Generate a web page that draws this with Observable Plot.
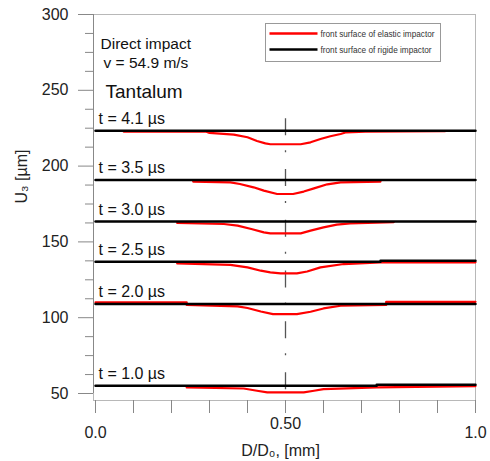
<!DOCTYPE html>
<html><head><meta charset="utf-8">
<script src="https://cdn.jsdelivr.net/npm/d3@7"></script>
<script src="https://cdn.jsdelivr.net/npm/@observablehq/plot@0.6"></script>
<style>
html,body{margin:0;padding:0;background:#fff;}
#chart{width:490px;height:461px;}
</style></head><body><div id="chart"></div>
<script>
// ---- data ----
const times = ["4.1", "3.5", "3.0", "2.5", "2.0", "1.0"];
const rigidLevels = [223.4, 190.9, 163.5, 136.9, 109.0, 55.1];

// rigid impactor front surface (black), per time
const rigid41D = [0, 1];          const rigid41U = [223.4, 223.4];
const rigid35D = [0, 1];          const rigid35U = [190.9, 190.9];
const rigid30D = [0, 1];          const rigid30U = [163.5, 163.5];
const rigid25D = [0, 0.75, 0.75, 1]; const rigid25U = [136.9, 136.9, 137.6, 137.6];
const rigid20D = [0, 1];          const rigid20U = [109.0, 109.0];
const rigid10D = [0, 0.74, 0.74, 1]; const rigid10U = [55.1, 55.1, 55.7, 55.7];

// elastic impactor front surface (red), per time
const elastic41D = [0.074, 0.29, 0.30, 0.364, 0.40, 0.425, 0.447, 0.46, 0.54, 0.566, 0.592, 0.618, 0.645, 0.66, 0.71, 0.92];
const elastic41U = [222.8, 222.8, 221.9, 220.8, 219.0, 216.6, 215.0, 214.4, 214.4, 215.7, 217.9, 219.7, 221.2, 222.3, 222.8, 223.0];
const elastic35D = [0.257, 0.355, 0.38, 0.416, 0.443, 0.478, 0.52, 0.548, 0.575, 0.61, 0.645, 0.75];
const elastic35U = [189.8, 189.3, 188.2, 186.0, 183.8, 181.6, 181.6, 183.2, 185.3, 188.0, 189.3, 189.8];
const elastic30D = [0.215, 0.338, 0.374, 0.41, 0.443, 0.46, 0.54, 0.566, 0.60, 0.635, 0.67, 0.785];
const elastic30U = [162.5, 161.8, 160.7, 158.5, 156.3, 155.6, 155.6, 157.4, 159.6, 161.4, 162.2, 163.1];
const elastic25D = [0.215, 0.355, 0.40, 0.435, 0.46, 0.487, 0.53, 0.557, 0.592, 0.653, 0.75, 1.0];
const elastic25U = [135.8, 134.8, 133.2, 131.0, 129.9, 129.2, 129.2, 130.5, 133.2, 135.4, 136.5, 136.5];
const elastic20D = [0, 0.24, 0.24, 0.374, 0.40, 0.435, 0.467, 0.53, 0.566, 0.60, 0.645, 0.765, 0.765, 1.0];
const elastic20U = [110.1, 110.1, 108.4, 107.5, 106.4, 104.1, 102.4, 102.4, 103.9, 106.1, 107.9, 108.4, 110.5, 110.5];
const elastic10D = [0.24, 0.39, 0.425, 0.452, 0.548, 0.575, 0.60, 0.74, 1.0];
const elastic10U = [54.0, 53.3, 51.8, 50.7, 50.7, 51.8, 52.9, 54.0, 54.9];

const yMajorTicks = [50, 100, 150, 200, 250, 300];
const yMinorTicks = d3.range(50, 300.01, 12.5).filter(v => !yMajorTicks.includes(v));
const xTicks = [0, 0.1, 0.2, 0.3, 0.4, 0.5, 0.6, 0.7, 0.8, 0.9, 1.0];
const xTickLabelsMid = [0.5];
const xTickLabelsEnds = [0, 1];
const xTickText = {0: "0.0", 0.5: "0.50", 1: "1.0"};
const centerD = [0.5];
const centerSpan = [231.3, 45.2];

const legendLabels = ["front surface of elastic impactor", "front surface of rigide impactor"];
const legendColors = ["#ff0000", "#000000"];

// ---- tables ----
function toRows(t, D, U) { return D.map((d, i) => ({t, D: d, U: U[i]})); }
const rigid = [
  ...toRows("4.1", rigid41D, rigid41U), ...toRows("3.5", rigid35D, rigid35U),
  ...toRows("3.0", rigid30D, rigid30U), ...toRows("2.5", rigid25D, rigid25U),
  ...toRows("2.0", rigid20D, rigid20U), ...toRows("1.0", rigid10D, rigid10U)
];
const elastic = [
  ...toRows("4.1", elastic41D, elastic41U), ...toRows("3.5", elastic35D, elastic35U),
  ...toRows("3.0", elastic30D, elastic30U), ...toRows("2.5", elastic25D, elastic25U),
  ...toRows("2.0", elastic20D, elastic20U), ...toRows("1.0", elastic10D, elastic10U)
];
const timeLabels = times.map((t, i) => ({t, level: rigidLevels[i]}));

const font = "Liberation Sans, Arial, sans-serif";

const plot = Plot.plot({
  width: 490, height: 461,
  marginTop: 14, marginRight: 15, marginBottom: 61, marginLeft: 93,
  style: {fontFamily: font, fontSize: "16px", color: "#222", background: "#fff"},
  x: {domain: [0, 1], range: [95, 475]},
  y: {domain: [50, 300], range: [393, 14]},
  marks: [
    Plot.frame({stroke: "#b8b8b8"}),
    Plot.ruleX([0], {y1: 300, y2: 50, dx: -2, stroke: "#888"}),
    Plot.axisY({ticks: yMajorTicks, tickSize: 15, tickPadding: 10, stroke: "#888", fill: "#222", fontSize: 16, label: null, tickFormat: d => String(d)}),
    Plot.axisY({ticks: yMinorTicks, tickSize: 8, stroke: "#888", label: null, tickFormat: () => ""}),
    Plot.axisX({ticks: xTicks, tickSize: 13, stroke: "#888", label: null, tickFormat: () => ""}),
    Plot.axisX({ticks: xTickLabelsMid, tickSize: 0, tickPadding: 17.5, fill: "#222", fontSize: 16, label: null, tickFormat: d => xTickText[d]}),
    Plot.axisX({ticks: xTickLabelsEnds, tickSize: 0, tickPadding: 26.5, fill: "#222", fontSize: 16, label: null, tickFormat: d => xTickText[d]}),
    Plot.ruleX(centerD, {x: d => d, y1: centerSpan[0], y2: centerSpan[1], stroke: "#555", strokeWidth: 1.3, strokeDasharray: "17,15,2,16.8"}),
    Plot.line(elastic, {x: "D", y: "U", z: "t", stroke: legendColors[0], strokeWidth: 2.2, curve: "linear"}),
    Plot.line(rigid, {x: "D", y: "U", z: "t", stroke: legendColors[1], strokeWidth: 2.5, curve: "linear"}),
    Plot.text(timeLabels, {x: () => 0, y: "level", text: d => `t = ${d.t} µs`, textAnchor: "start", lineAnchor: "middle", dx: 3, dy: -12, fontSize: 16, fill: "#111"}),
    Plot.text(["Direct impact"], {text: d => d, frameAnchor: "top-left", dx: 7, dy: 30, textAnchor: "start", lineAnchor: "middle", fontSize: 15.5, fill: "#111"}),
    Plot.text(["v = 54.9 m/s"], {text: d => d, frameAnchor: "top-left", dx: 10, dy: 48.5, textAnchor: "start", lineAnchor: "middle", fontSize: 15.5, fill: "#111"}),
    Plot.text(["Tantalum"], {text: d => d, frameAnchor: "top-left", dx: 12, dy: 77, textAnchor: "start", lineAnchor: "middle", fontSize: 19, fill: "#111"}),
    Plot.text(["U₃ [µm]"], {text: d => d, frameAnchor: "left", rotate: -90, dx: -72, dy: -4, lineAnchor: "middle", fontSize: 16, fill: "#222"}),
    Plot.text(["D/D₀, [mm]"], {text: d => d, frameAnchor: "bottom", dx: -4, dy: 50, lineAnchor: "middle", fontSize: 16, fill: "#222"})
  ]
});
document.getElementById("chart").appendChild(plot);

// ---- legend (inside the plot area, top right) ----
const svg = d3.select(plot);
const lg = svg.append("g").attr("transform", "translate(265.5,23.5)");
lg.append("rect").attr("width", 175).attr("height", 38).attr("fill", "#fff").attr("stroke", "#999").attr("stroke-width", 1);
legendLabels.forEach((lab, i) => {
  const cy = 10 + i * 16;
  lg.append("line").attr("x1", 4).attr("x2", 52).attr("y1", cy).attr("y2", cy)
    .attr("stroke", legendColors[i]).attr("stroke-width", 2.5);
  lg.append("text").attr("x", 55).attr("y", cy + 3.3).text(lab)
    .attr("text-anchor", "start")
    .attr("font-family", font).attr("font-size", 9.5).attr("fill", "#333")
    .attr("textLength", i === 0 ? 114 : 111).attr("lengthAdjust", "spacingAndGlyphs");
});
</script>
</body></html>
